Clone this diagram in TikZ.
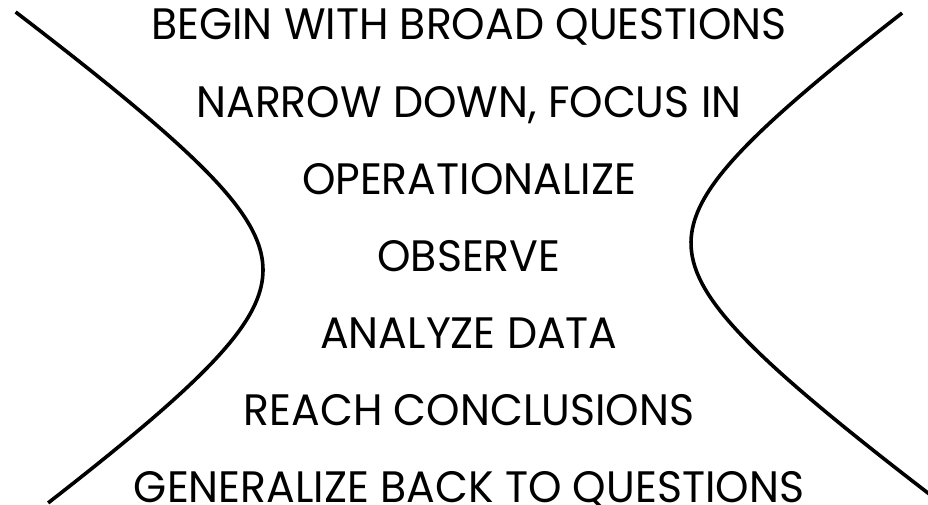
\documentclass[tikz,border=0pt]{standalone}
\usepackage{fontspec}
\setmainfont{Poppins}[FakeStretch=0.968]
\begin{document}
\begin{tikzpicture}[x=1pt, y=-1pt]
    % --- Definitions ---
    \def\midX{469}
    \def\topBase{40}
    \def\lineGap{77.1}
    \def\semiA{140}  % horizontal semi-axis
    \def\semiB{100}  % vertical semi-axis
    \tikzset{stage/.style={anchor=base, inner sep=0pt, font=\fontsize{44}{52}\selectfont},
             branch/.style={line width=3.6pt}}

    % --- Canvas ---
    \useasboundingbox (0,0) rectangle (928,505);

    % --- Stages ---
    \foreach \txt [count=\i] in {{BEGIN WITH BROAD QUESTIONS}, {NARROW DOWN, FOCUS IN},
        {OPERATIONALIZE}, {OBSERVE}, {ANALYZE DATA}, {REACH CONCLUSIONS},
        {GENERALIZE BACK TO QUESTIONS}}
        \node[stage] (stage\i) at (\midX, {\topBase+(\i-1)*\lineGap}) {\txt};

    % --- Left branch ---
    \draw[branch] plot[smooth, samples=60, domain=-2.58:2.33, variable=\s]
        ({263-\semiA*(sqrt(1+\s*\s)-1)}, {270+\semiB*\s});

    % --- Right branch ---
    \draw[branch] plot[smooth, samples=60, domain=-2.3:2.6, variable=\s]
        ({691+\semiA*(sqrt(1+\s*\s)-1)}, {243+\semiB*\s});
\end{tikzpicture}
\end{document}
